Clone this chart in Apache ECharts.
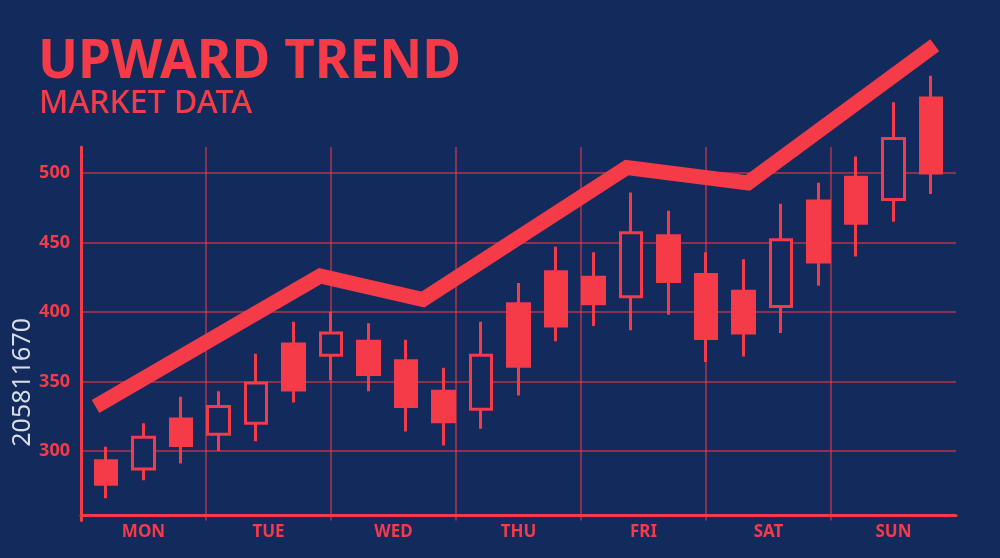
<!DOCTYPE html>
<html>
<head>
<meta charset="utf-8">
<title>Upward Trend</title>
<script src="https://cdn.jsdelivr.net/npm/echarts@6/dist/echarts.min.js"></script>
<style>
  html, body { margin: 0; padding: 0; background: #132a5c; }
  #chart { width: 1000px; height: 558px; }
</style>
</head>
<body>
<div id="chart"></div>
<script>
// day labels on the bottom axis
const days = ["MON", "TUE", "WED", "THU", "FRI", "SAT", "SUN"];
const yTicks = [300, 350, 400, 450, 500];

// 23 candles
const opens = [293, 287, 323, 312, 320, 377, 369, 379, 365, 343, 330, 406, 429, 425, 411, 455, 427, 415, 404, 480, 497, 481, 554];
const closes = [276, 310, 304, 332, 349, 344, 385, 355, 332, 321, 369, 361, 390, 406, 457, 422, 381, 385, 452, 436, 464, 525, 500];
const lows = [266, 279, 291, 300, 307, 335, 351, 343, 314, 304, 316, 340, 379, 390, 387, 398, 364, 368, 385, 419, 440, 465, 485];
const highs = [303, 320, 339, 343, 370, 393, 400, 392, 380, 360, 393, 421, 447, 443, 486, 473, 443, 438, 478, 493, 512, 551, 570];

// thick trend line (x in candle index units)
const trendX = [-0.28, 5.71, 8.45, 13.89, 17.12, 22.1];
const trendY = [332, 426, 409, 504, 493, 592];

const red = "#f43b47";
const bg = "#132a5c";
const gridLine = { color: "rgba(244,59,71,0.7)", width: 1.5 };

const candles = opens.map((o, i) => [i, o, closes[i], lows[i], highs[i]]);
const trend = trendX.map((x, i) => [x, trendY[i]]);

const chart = echarts.init(document.getElementById("chart"));
chart.setOption({
  backgroundColor: bg,
  animation: false,
  textStyle: { fontFamily: "Noto Sans" },
  title: [
    {
      text: "UPWARD TREND",
      left: 38,
      top: 36,
      padding: 0,
      textStyle: { color: red, fontSize: 53, fontWeight: "bold", fontFamily: "Noto Sans" },
    },
    {
      text: "MARKET DATA",
      left: 39,
      top: 88,
      padding: 0,
      textStyle: { color: red, fontSize: 32, fontWeight: 500, fontFamily: "Noto Sans" },
    },
  ],
  graphic: [
    {
      type: "text",
      left: 10,
      top: 318,
      rotation: Math.PI / 2,
      style: { text: "205811670", fill: "#d9dde6", font: "25px Noto Sans" },
    },
  ],
  grid: [
    { left: 81, right: 44, top: 30, bottom: 37.5 },
    { left: 81, right: 44, top: 147, bottom: 37.5 },
  ],
  xAxis: [
    { gridIndex: 0, type: "value", min: -0.667, max: 22.667, show: false },
    {
      gridIndex: 1,
      type: "category",
      data: days,
      boundaryGap: true,
      offset: -5.5,
      axisLine: { lineStyle: { color: red, width: 3 } },
      axisTick: { show: false },
      axisLabel: { color: red, fontSize: 17, fontWeight: "bold", margin: 9 },
      splitLine: { show: true, showMinLine: false, showMaxLine: false, lineStyle: gridLine },
    },
  ],
  yAxis: [
    { gridIndex: 0, type: "value", min: 250, max: 603, show: false },
    {
      gridIndex: 1,
      type: "value",
      min: 250,
      max: 518.7,
      interval: 50,
      axisLine: { show: true, lineStyle: { color: red, width: 3 } },
      axisTick: { show: false },
      axisLabel: {
        color: red,
        fontSize: 18,
        fontWeight: "bold",
        margin: 11,
        formatter: (v) => (yTicks.includes(v) ? String(v) : ""),
      },
      splitLine: { show: true, showMinLine: false, showMaxLine: false, lineStyle: gridLine },
    },
  ],
  series: [
    {
      type: "candlestick",
      xAxisIndex: 0,
      yAxisIndex: 0,
      encode: { x: 0, y: [1, 2, 3, 4] },
      barWidth: 22,
      itemStyle: {
        color: bg,
        color0: red,
        borderColor: red,
        borderColor0: red,
        borderWidth: 3,
      },
      data: candles,
      z: 3,
    },
    {
      type: "line",
      xAxisIndex: 0,
      yAxisIndex: 0,
      symbol: "none",
      lineStyle: { color: red, width: 15, cap: "butt", join: "miter" },
      data: trend,
      z: 4,
    },
  ],
});
</script>
</body>
</html>
